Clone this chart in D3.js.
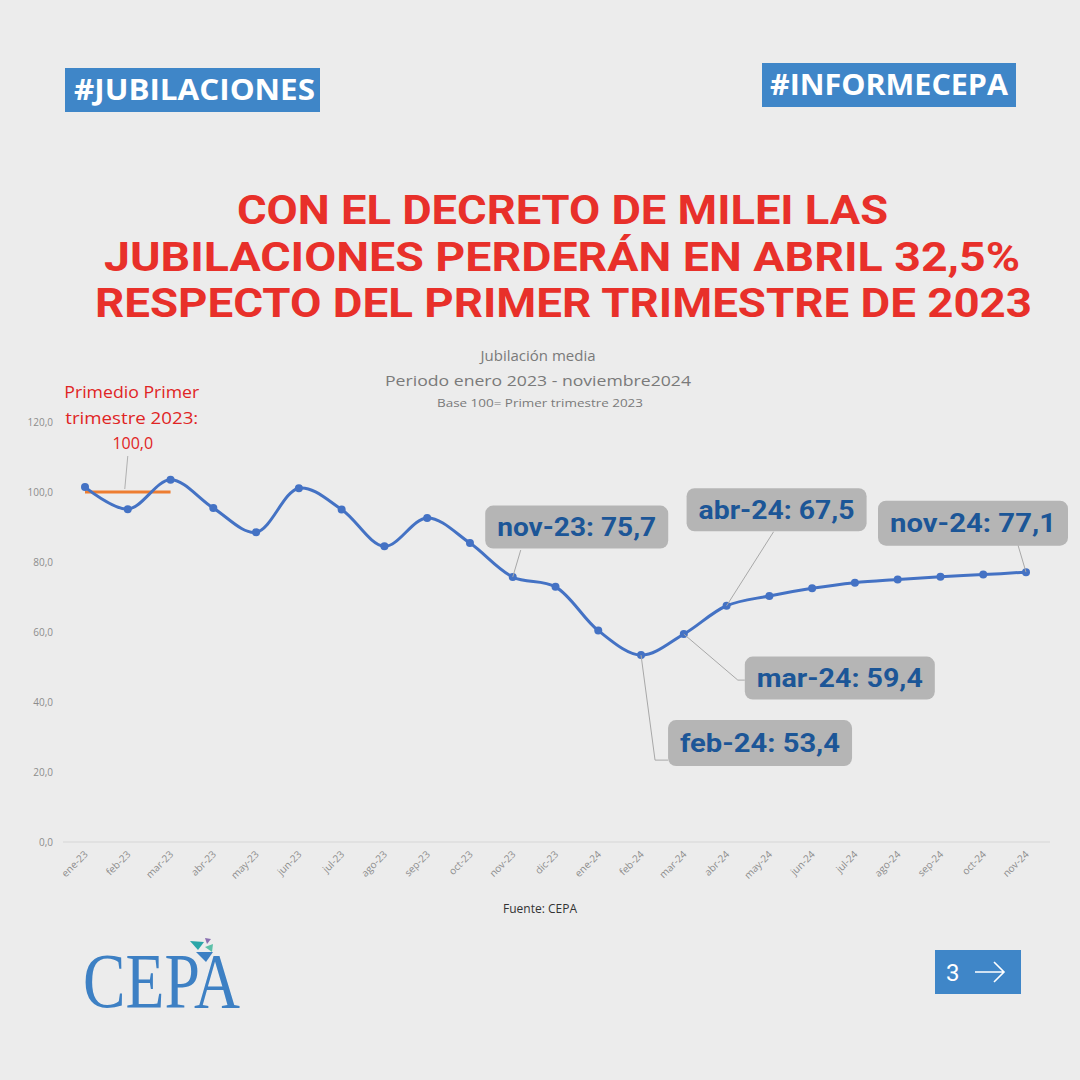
<!DOCTYPE html>
<html><head><meta charset="utf-8">
<script src="https://cdn.jsdelivr.net/npm/d3@7"></script>
<style>html,body{margin:0;padding:0;background:#ececec;}svg{display:block;}</style>
</head><body>
<script>
const months = ["ene-23","feb-23","mar-23","abr-23","may-23","jun-23","jul-23","ago-23","sep-23","oct-23","nov-23","dic-23",
  "ene-24","feb-24","mar-24","abr-24","may-24","jun-24","jul-24","ago-24","sep-24","oct-24","nov-24"];
const values = [101.4,95.1,103.5,95.4,88.5,101.1,95.0,84.5,92.6,85.4,75.7,72.9,
  60.4,53.4,59.4,67.5,70.3,72.5,74.1,75.0,75.8,76.4,77.1];
const baseMonths = ["ene-23","mar-23"];
const baseValue = 100.0;
const yTicks = [0,20,40,60,80,100,120];
const labelled = ["nov-23","abr-24","nov-24","mar-24","feb-24"];

const W = 1080, H = 1080;
const svg = d3.select("body").append("svg").attr("width",W).attr("height",H);
svg.append("rect").attr("width",W).attr("height",H).attr("fill","#ececec");

const blue = "#3f86c8";
// hashtag boxes
function tag(x,y,w,h,txt,tx,tw){
  svg.append("rect").attr("x",x).attr("y",y).attr("width",w).attr("height",h).attr("fill",blue);
  svg.append("text").attr("x",tx).attr("y",y+h-12).attr("fill","#fff")
    .attr("font-family","Open Sans").attr("font-weight",700).attr("font-size",28)
    .attr("textLength",tw).attr("lengthAdjust","spacingAndGlyphs").text(txt);
}
tag(65,68,255,44,"#JUBILACIONES",74,241);
tag(762,63,254,44,"#INFORMECEPA",770,238);

// title
const titleLines = [
  {t:"CON EL DECRETO DE MILEI LAS", x:237, w:651, y:224},
  {t:"JUBILACIONES PERDERÁN EN ABRIL 32,5%", x:104, w:916, y:271},
  {t:"RESPECTO DEL PRIMER TRIMESTRE DE 2023", x:95, w:937, y:317}
];
titleLines.forEach(l=>{
  svg.append("text").attr("x",l.x).attr("y",l.y).attr("fill","#e8302a")
    .attr("font-family","Roboto").attr("font-weight",700).attr("font-size",40)
    .attr("textLength",l.w).attr("lengthAdjust","spacingAndGlyphs").text(l.t);
});

// chart titles
const ct = svg.append("g").attr("font-family","Open Sans").attr("fill","#7a7a7a").attr("text-anchor","middle");
ct.append("text").attr("x",538).attr("y",361).attr("font-size",15).text("Jubilación media");
ct.append("text").attr("x",538).attr("y",386).attr("font-size",15).attr("textLength",306).attr("lengthAdjust","spacingAndGlyphs").text("Periodo enero 2023 - noviembre2024");
ct.append("text").attr("x",540).attr("y",407).attr("font-size",10.5).attr("textLength",206).attr("lengthAdjust","spacingAndGlyphs").text("Base 100=  Primer trimestre 2023");

// scales
const x = d3.scalePoint().domain(months).range([85,1026]);
const y = d3.scaleLinear().domain([0,120]).range([842,422]);

// y axis
const yAxis = svg.append("g").attr("transform","translate(53,0)")
  .call(d3.axisLeft(y).tickValues(yTicks).tickSize(0).tickPadding(0)
    .tickFormat(d=>d3.format(".1f")(d).replace(".",",")));
yAxis.select(".domain").remove();
yAxis.selectAll("text").attr("font-family","Open Sans").attr("font-size",10).attr("fill","#8c8c8c");

// baseline
svg.append("line").attr("x1",63).attr("x2",1050).attr("y1",y(0)).attr("y2",y(0))
  .attr("stroke","#d6d6d6").attr("stroke-width",1);

// x axis
const xAxis = svg.append("g").attr("transform",`translate(0,${y(0)})`)
  .call(d3.axisBottom(x).tickSize(0).tickPadding(0));
xAxis.select(".domain").remove();
xAxis.selectAll("text").attr("font-family","Open Sans").attr("font-size",10).attr("fill","#8c8c8c")
  .attr("text-anchor","end").attr("dy",0).attr("transform","translate(3,13) rotate(-45)");

// base line (orange)
svg.append("line").attr("x1",x(baseMonths[0])).attr("x2",x(baseMonths[1]))
  .attr("y1",y(baseValue)).attr("y2",y(baseValue)).attr("stroke","#ed7d31").attr("stroke-width",3);

// data line
const data = months.map((m,i)=>({m,v:values[i]}));
svg.append("path").datum(data)
  .attr("d",d3.line().x(d=>x(d.m)).y(d=>y(d.v)).curve(d3.curveCatmullRom.alpha(0.5)))
  .attr("fill","none").attr("stroke","#4472c4").attr("stroke-width",3);
svg.selectAll("circle.pt").data(data).join("circle").attr("class","pt")
  .attr("cx",d=>x(d.m)).attr("cy",d=>y(d.v)).attr("r",4).attr("fill","#4472c4");

// base annotation
const ba = svg.append("g").attr("font-family","Open Sans").attr("font-size",16).attr("fill","#e02424").attr("text-anchor","middle");
const bx = (x(baseMonths[0])+x(baseMonths[1]))/2 - 1;
ba.append("text").attr("x",bx+5).attr("y",398).attr("textLength",135).attr("lengthAdjust","spacingAndGlyphs").text("Primedio Primer");
ba.append("text").attr("x",bx+5).attr("y",424).attr("textLength",133).attr("lengthAdjust","spacingAndGlyphs").text("trimestre 2023:");
ba.append("text").attr("x",bx+6).attr("y",449).text(d3.format(".1f")(baseValue).replace(".",","));
svg.append("line").attr("x1",bx+1).attr("y1",456).attr("x2",bx-2).attr("y2",y(baseValue)-3)
  .attr("stroke","#b0b0b0").attr("stroke-width",1);

// data labels
const annot = {
  "nov-23": {dx:64, dy:-50, w:183, h:43, lead:[[8,-27]]},
  "abr-24": {dx:50, dy:-96, w:180, h:43, lead:[[47,-74]]},
  "nov-24": {dx:-53, dy:-49, w:190, h:45, lead:[[-8,-27]]},
  "mar-24": {dx:156, dy:44, w:190, h:43, lead:[[54,46],[61,46]]},
  "feb-24": {dx:119, dy:88, w:184, h:46, lead:[[14,105],[27,105]]}
};
labelled.forEach(m=>{
  const i = months.indexOf(m), v = values[i], a = annot[m];
  const px = x(m), py = y(v);
  const pts = [[px,py]].concat(a.lead.map(p=>[px+p[0],py+p[1]]));
  svg.append("path").attr("d",d3.line()(pts)).attr("fill","none").attr("stroke","#a8a8a8").attr("stroke-width",1);
  const cx = px+a.dx, cy = py+a.dy;
  svg.append("rect").attr("x",cx-a.w/2).attr("y",cy-a.h/2).attr("width",a.w).attr("height",a.h)
    .attr("rx",8).attr("fill","#b5b5b5");
  svg.append("text").attr("x",cx).attr("y",cy+9).attr("text-anchor","middle")
    .attr("font-family","Roboto").attr("font-weight",700).attr("font-size",26).attr("fill","#1c5697")
    .attr("textLength",a.w-24).attr("lengthAdjust","spacingAndGlyphs")
    .text(`${m}: ${d3.format(".1f")(v).replace(".",",")}`);
});

// source
svg.append("text").attr("x",540).attr("y",913).attr("text-anchor","middle")
  .attr("font-family","Open Sans").attr("font-size",12).attr("fill","#333").text("Fuente: CEPA");

// CEPA logo
svg.append("text").attr("x",83).attr("y",1007).attr("font-family","Liberation Serif").attr("font-size",78)
  .attr("fill","#3d80c4").attr("textLength",157).attr("lengthAdjust","spacingAndGlyphs").text("CEPA");
svg.append("path").attr("d","M190,941 L204,942 L198,950 Z").attr("fill","#2aa6a8");
svg.append("path").attr("d","M205,938 L211,939 L207,944 Z").attr("fill","#8a6fb0");
svg.append("path").attr("d","M205,947 L213,944 L212,952 Z").attr("fill","#5cc0a8");
svg.append("path").attr("d","M196,952 L213,952 L206,962 Z").attr("fill","#3d80c4");

// page box
svg.append("rect").attr("x",935).attr("y",950).attr("width",86).attr("height",44).attr("fill",blue);
svg.append("text").attr("x",946).attr("y",981).attr("font-family","Roboto").attr("font-size",24).attr("fill","#fff").text("3");
svg.append("path").attr("d","M975,972 L1004,972 M994,962 L1004,972 L994,982").attr("fill","none")
  .attr("stroke","#fff").attr("stroke-width",1.6);
</script>
</body></html>
